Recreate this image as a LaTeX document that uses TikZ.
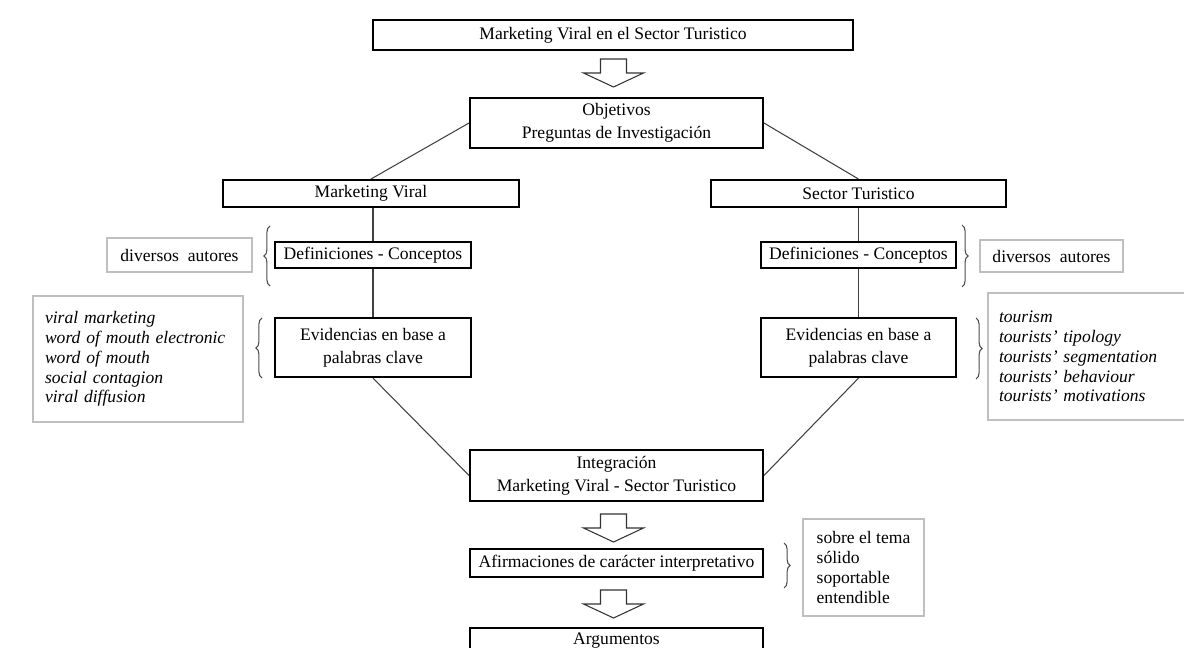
\documentclass[tikz,border=0pt]{standalone}
\usepackage{fontspec}
\setmainfont{Liberation Serif}
\usetikzlibrary{decorations.pathreplacing}

\tikzset{
  mainbox/.style={draw=black,line width=1.1pt,inner sep=2pt,align=center},
  graybox/.style={draw=gray!50,line width=0.7pt,align=left,inner xsep=0.24cm},
  link/.style={draw=black!75,line width=0.6pt},
  bracket/.style={draw=black!70,line width=0.6pt,decorate,decoration={brace,amplitude=3.5pt}}
}

\begin{document}
\begin{tikzpicture}[x=0.02cm,y=-0.02cm,font=\fontsize{10}{13}\selectfont]
\useasboundingbox (0,0) rectangle (1184,648);
\clip (0,0) rectangle (1184,648);

% central column
\node[mainbox,minimum width=9.6cm,minimum height=0.6cm] (title) at (613,35) {Marketing Viral en el Sector Turistico};
\node[mainbox,minimum width=5.86cm,minimum height=1cm] (obj) at (616.5,123) {Objetivos\\Preguntas de Investigación};
\node[mainbox,minimum width=5.86cm,minimum height=1.02cm] (integ) at (616.5,475.5) {Integración\\Marketing Viral - Sector Turistico};
\node[mainbox,minimum width=5.86cm,minimum height=0.56cm] (afirm) at (616.5,563) {Afirmaciones de carácter interpretativo};
\node[mainbox,minimum width=5.86cm,anchor=north,inner ysep=3pt,text depth=30pt] (arg) at (616.5,627) {Argumentos};

% left branch
\node[mainbox,minimum width=5.92cm,minimum height=0.54cm] (mv) at (371,193.5) {Marketing Viral};
\node[mainbox,line width=1.4pt,minimum width=3.92cm,minimum height=0.52cm] (defL) at (373,255) {Definiciones - Conceptos};
\node[mainbox,line width=1.3pt,minimum width=3.92cm,minimum height=1.18cm] (evL) at (373,347.5) {Evidencias en base a\\palabras clave};

% right branch
\node[mainbox,minimum width=5.9cm,minimum height=0.54cm] (st) at (858.5,193.5) {Sector Turistico};
\node[mainbox,line width=1.4pt,minimum width=3.9cm,minimum height=0.52cm] (defR) at (858.5,255) {Definiciones - Conceptos};
\node[mainbox,line width=1.3pt,minimum width=3.9cm,minimum height=1.18cm] (evR) at (858.5,347.5) {Evidencias en base a\\palabras clave};

% side notes
\node[graybox,minimum width=2.9cm,minimum height=0.68cm] (autL) at (179.5,255) {diversos\ \ autores};
\node[graybox,minimum width=2.86cm,minimum height=0.64cm] (autR) at (1051.5,256) {diversos\ \ autores};
\node[graybox,text width=3.72cm,minimum height=2.52cm,font=\fontsize{10}{11.3}\selectfont\itshape] (keyL) at (138,359)
  {viral marketing\\word of mouth electronic\\word of mouth\\social contagion\\viral diffusion};
\node[graybox,inner xsep=0.22cm,text width=3.8cm,minimum height=2.54cm,font=\fontsize{10}{11.3}\selectfont\itshape] (keyR) at (1094,356.5)
  {tourism\\tourists’ tipology\\tourists’ segmentation\\tourists’ behaviour\\tourists’ motivations};
\node[graybox,inner xsep=0.2cm,minimum width=2.42cm,minimum height=1.94cm,font=\fontsize{10}{11.3}\selectfont] (tema) at (863.5,567.5)
  {sobre el tema\\sólido\\soportable\\entendible};

% connectors
\draw[link] (obj.west) -- (mv.north);
\draw[link] (obj.east) -- (st.north);
\draw[link] (defL.north |- mv.south) -- (defL.north);
\draw[link] (defL.south) -- (evL.north);
\draw[link] (defR.north |- st.south) -- (defR.north);
\draw[link] (defR.south) -- (evR.north);
\draw[link] (evL.south) -- (integ.west);
\draw[link] (evR.south) -- (integ.east);

% braces
\draw[bracket] (270,286) -- (270,226);
\draw[bracket] (262,378) -- (262,318);
\draw[bracket] (962,225) -- (962,287);
\draw[bracket] (976,318) -- (976,379);
\draw[bracket] (784,543) -- (784,588);

% hollow arrows
\foreach \ay in {59,514,590} {
  \draw[black!80,line width=0.6pt] (600.5,\ay) -- (626.5,\ay) -- (626.5,\ay+14) -- (643.5,\ay+14)
    -- (613.5,\ay+28) -- (583.5,\ay+14) -- (600.5,\ay+14) -- cycle;
}
\end{tikzpicture}
\end{document}
